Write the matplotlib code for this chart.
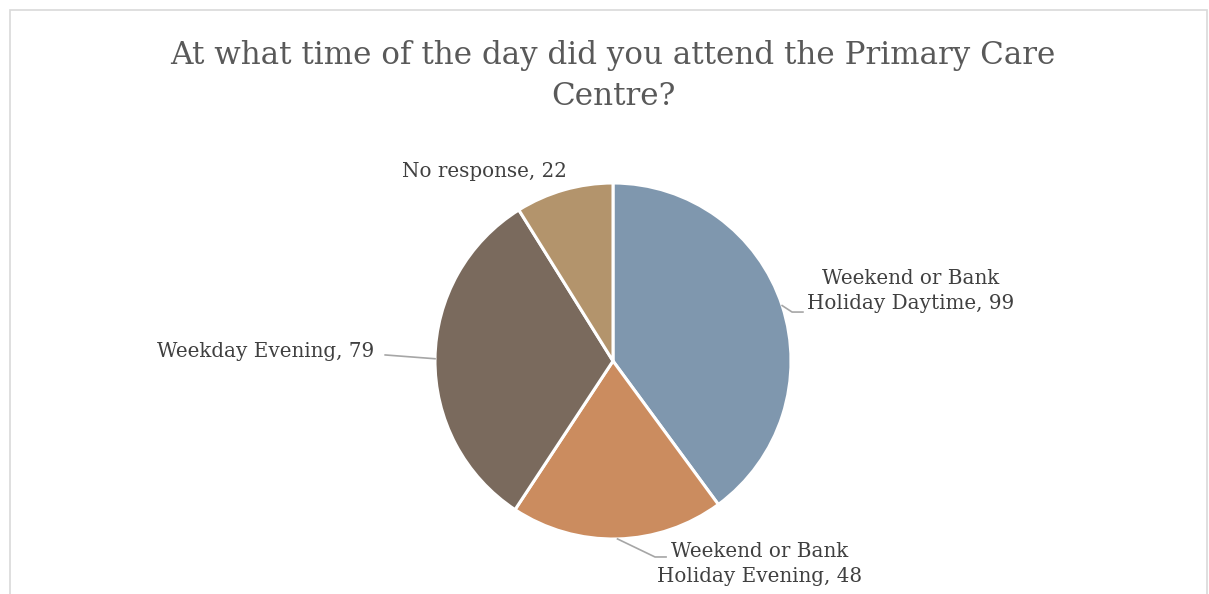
import numpy as np
import matplotlib
matplotlib.use("Agg")
import matplotlib.pyplot as plt
from matplotlib.patches import Rectangle

# Umfrage: Tageszeit des Besuchs im Primary Care Centre
kategorien = ["Weekend or Bank\nHoliday Daytime", "Weekend or Bank\nHoliday Evening",
              "Weekday Evening", "No response"]
anzahl = [99, 48, 79, 22]
farben = ["#7F97AE", "#CB8C5F", "#7A6A5D", "#B3946C"]
titel = "At what time of the day did you attend the Primary Care\nCentre?"

W, H = 1209, 594
fig = plt.figure(figsize=(W / 100, H / 100), dpi=100)
fig.patch.set_facecolor("white")

# Rahmen um den Diagrammbereich
fig.add_artist(Rectangle((10 / W, -0.05), 1197 / W, 1.05 - 10 / H, transform=fig.transFigure,
                         fill=False, edgecolor="#D9D9D9", linewidth=1.2))

fig.text(613 / W, 1 - 76 / H, titel, ha="center", va="center", fontsize=22.3,
         family="DejaVu Serif", color="#595959", linespacing=1.45)

cx, cy, r = 613, 361, 178
ax = fig.add_axes([(cx - r) / W, 1 - (cy + r) / H, 2 * r / W, 2 * r / H])

wedges, _ = ax.pie(anzahl, colors=farben, startangle=90, counterclock=False, radius=1,
                   wedgeprops=dict(edgecolor="white", linewidth=2.2))
# pie() setzt eigene Grenzen, daher danach festlegen
ax.set_xlim(-1, 1)
ax.set_ylim(-1, 1)
ax.set_aspect("equal")
ax.axis("off")

# Beschriftungen: (Textposition, Ausrichtung, Knickpunkte der Führungslinie)
label_pos = [
    ((1.674, 0.393), "center", [(1.006, 0.275), (1.067, 0.275)]),
    ((0.826, -1.14), "center", [(0.236, -1.101), (0.298, -1.101)]),
    ((-1.34, 0.056), "right", [(-1.28, 0.034)]),
    ((-0.725, 1.067), "center", None),
]

for w, name, n, (pos, ha, knicke) in zip(wedges, kategorien, anzahl, label_pos):
    ang = np.deg2rad((w.theta1 + w.theta2) / 2)
    if knicke:
        xs = [np.cos(ang)] + [p[0] for p in knicke]
        ys = [np.sin(ang)] + [p[1] for p in knicke]
        ax.plot(xs, ys, color="#A6A6A6", linewidth=1.2, clip_on=False)
    ax.text(pos[0], pos[1], f"{name}, {n}", ha=ha, va="center", fontsize=14.3,
            family="DejaVu Serif", color="#404040", multialignment="center",
            linespacing=1.45)

fig.savefig("out.png", dpi=100)
